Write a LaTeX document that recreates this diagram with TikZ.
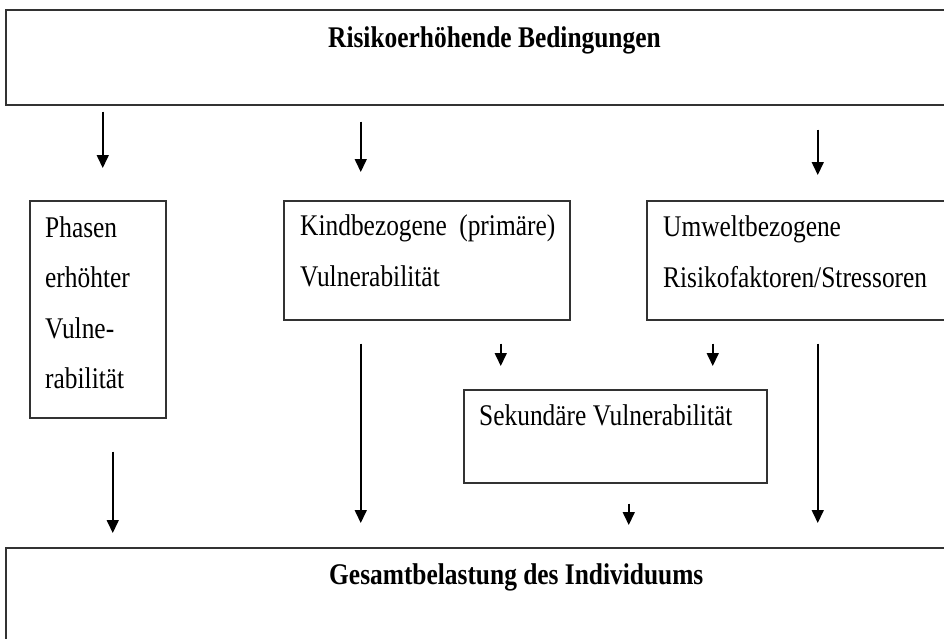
\documentclass[tikz,border=0pt]{standalone}
\usepackage{fontspec}
\setmainfont{Liberation Serif}[FakeStretch=0.847]
\usepackage{tikz}
\usetikzlibrary{arrows.meta,positioning,calc}
\definecolor{FrameGray}{RGB}{50, 50, 50}

\tikzset{
  box/.style={draw=FrameGray, line width=1.5pt, inner sep=0pt, anchor=north west},
  boxtext/.style={anchor=base west, align=left, inner sep=0pt},
  arr/.style={line width=1.6pt, -{Triangle[width=12pt, length=13pt]}}
}

\begin{document}
\begin{tikzpicture}[x=1pt, y=-1pt, font=\fontsize{30}{50.5}\selectfont]
  \useasboundingbox (0, 0) rectangle (944, 638);

  % Boxes
  \node[box, minimum width=978pt, minimum height=95pt] (risk) at (5, 9) {};
  \node[box, minimum width=136pt, minimum height=217pt] (phase) at (29, 200) {};
  \node[box, minimum width=286pt, minimum height=119pt] (child) at (283, 200) {};
  \node[box, minimum width=310pt, minimum height=119pt] (envir) at (646, 200) {};
  \node[box, minimum width=303pt, minimum height=93pt] (second) at (463, 389) {};
  \node[box, minimum width=978pt, minimum height=120pt] (total) at (5, 547) {};

  % Texts (base = last line)
  \node[boxtext, font=\fontsize{30}{50.5}\selectfont\bfseries] (risktxt) at (328, 47) {Risikoerhöhende Bedingungen};
  \node[boxtext] (phasetxt) at (45, 388.5) {Phasen\\erhöhter\\Vulne-\\rabilität};
  \node[boxtext] (childtxt) at (300, 286) {Kindbezogene\hspace{6pt} (primäre)\\Vulnerabilität};
  \node[boxtext] (envirtxt) at (663, 287) {Umweltbezogene\\Risikofaktoren/Stressoren};
  \node[boxtext] (secondtxt) at (479, 425) {Sekundäre Vulnerabilität};
  \node[boxtext, font=\fontsize{30}{50.5}\selectfont\bfseries] (totaltxt) at (329, 584) {Gesamtbelastung des Individuums};

  % Arrows from the top box
  \draw[arr, shorten <=6pt, shorten >=32pt] ([xshift=5pt]phase.north |- risk.south) -- ([xshift=5pt]phase.north);
  \draw[arr, shorten <=16pt, shorten >=28pt] ([xshift=-66pt]child.north |- risk.south) -- ([xshift=-66pt]child.north);
  \draw[arr, shorten <=24pt, shorten >=25pt] ([xshift=16pt]envir.north |- risk.south) -- ([xshift=16pt]envir.north);

  % Arrows to secondary vulnerability
  \draw[arr, shorten <=23pt, shorten >=23pt] ([xshift=-114.5pt]second.north |- child.south) -- ([xshift=-114.5pt]second.north);
  \draw[arr, shorten <=23pt, shorten >=23pt] ([xshift=97.5pt]second.north |- envir.south) -- ([xshift=97.5pt]second.north);

  % Arrows to the bottom box
  \draw[arr, shorten <=33pt, shorten >=14pt] ([xshift=15pt]phase.south) -- ([xshift=15pt]phase.south |- total.north);
  \draw[arr, shorten <=23pt, shorten >=24pt] ([xshift=-66pt]child.south) -- ([xshift=-66pt]child.south |- total.north);
  \draw[arr, shorten <=20pt, shorten >=22pt] ([xshift=13.5pt]second.south) -- ([xshift=13.5pt]second.south |- total.north);
  \draw[arr, shorten <=23pt, shorten >=24pt] ([xshift=16pt]envir.south) -- ([xshift=16pt]envir.south |- total.north);
\end{tikzpicture}
\end{document}
